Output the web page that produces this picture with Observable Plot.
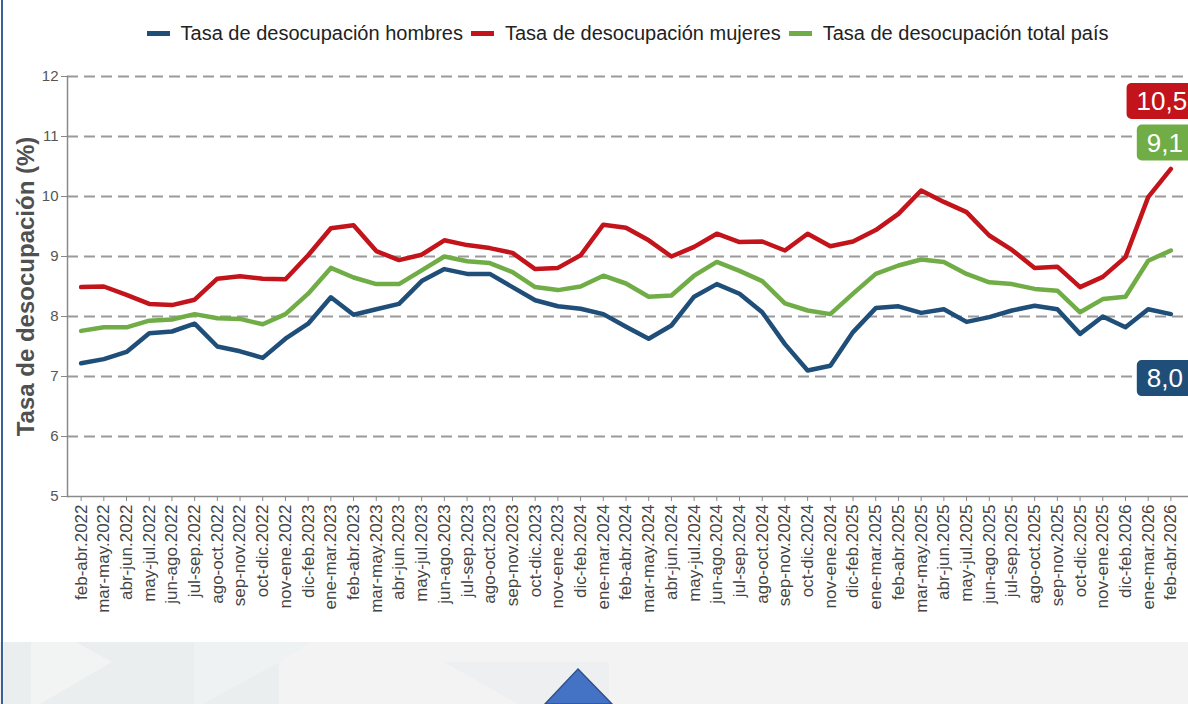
<!DOCTYPE html>
<html>
<head>
<meta charset="utf-8">
<script src="https://cdn.jsdelivr.net/npm/d3@7"></script>
<script src="https://cdn.jsdelivr.net/npm/@observablehq/plot@0.6"></script>
<style>
  html, body { margin: 0; padding: 0; background: #ffffff; }
  #page { position: relative; width: 1188px; height: 704px; overflow: hidden; background: #ffffff; font-family: "Liberation Sans", Arial, sans-serif; }
  #legend { position: absolute; left: 67px; width: 1121px; top: 22px; display: flex; justify-content: center; align-items: center; font-size: 20px; color: #222; white-space: nowrap; }
  .item { display: flex; align-items: center; margin: 0 4px; }
  .sw { width: 23px; height: 5px; margin-right: 11px; }
  #chart { position: absolute; left: 0; top: 55px; }
  #bottom { position: absolute; left: 0; top: 642px; width: 1188px; height: 62px; background: #f3f3f3; }
  #edge { position: absolute; left: 1px; top: 0; width: 2px; height: 704px; background: #3d5f99; }
</style>
</head>
<body>
<div id="page">
  <div id="legend"></div>
  <div id="chart"></div>
  <div id="bottom">
    <svg width="1188" height="62">
      <rect x="4" y="0" width="275" height="62" fill="#ebeeee"/>
      <polygon points="31,0 76,0 112,20 40,62 31,62" fill="#f2f4f4"/>
      <polygon points="194,0 312,0 279,20 203,62 194,62" fill="#eff2f2"/>
      <polygon points="444,20 609,20 609,62 518,62" fill="#edeff1"/>
      <polygon points="578,27 612,62 545,62" fill="#4472c4" stroke="#2f528f" stroke-width="1.5"/>
    </svg>
  </div>
  <div id="edge"></div>
</div>
<script>
const periods = [
  "feb-abr.2022","mar-may.2022","abr-jun.2022","may-jul.2022","jun-ago.2022","jul-sep.2022",
  "ago-oct.2022","sep-nov.2022","oct-dic.2022","nov-ene.2022","dic-feb.2023","ene-mar.2023",
  "feb-abr.2023","mar-may.2023","abr-jun.2023","may-jul.2023","jun-ago.2023","jul-sep.2023",
  "ago-oct.2023","sep-nov.2023","oct-dic.2023","nov-ene.2023","dic-feb.2024","ene-mar.2024",
  "feb-abr.2024","mar-may.2024","abr-jun.2024","may-jul.2024","jun-ago.2024","jul-sep.2024",
  "ago-oct.2024","sep-nov.2024","oct-dic.2024","nov-ene.2024","dic-feb.2025","ene-mar.2025",
  "feb-abr.2025","mar-may.2025","abr-jun.2025","may-jul.2025","jun-ago.2025","jul-sep.2025",
  "ago-oct.2025","sep-nov.2025","oct-dic.2025","nov-ene.2025","dic-feb.2026","ene-mar.2026",
  "feb-abr.2026"
];

const hombres = [
  7.22,7.29,7.41,7.72,7.75,7.88,7.50,7.42,7.31,7.63,7.88,8.32,
  8.03,8.12,8.21,8.59,8.79,8.71,8.71,8.49,8.27,8.17,8.13,8.04,
  7.83,7.63,7.85,8.33,8.54,8.38,8.07,7.54,7.10,7.18,7.74,8.14,
  8.17,8.06,8.12,7.91,7.99,8.10,8.18,8.12,7.71,8.00,7.82,8.12,
  8.04
];

const mujeres = [
  8.49,8.50,8.36,8.21,8.19,8.28,8.63,8.67,8.63,8.62,9.02,9.47,
  9.52,9.09,8.94,9.03,9.27,9.19,9.14,9.06,8.79,8.81,9.02,9.53,
  9.48,9.27,9.00,9.16,9.38,9.24,9.25,9.10,9.38,9.17,9.25,9.44,
  9.71,10.10,9.91,9.74,9.35,9.11,8.81,8.83,8.49,8.66,8.99,9.99,
  10.46
];

const total = [
  7.76,7.82,7.82,7.93,7.95,8.04,7.97,7.96,7.87,8.04,8.38,8.81,
  8.65,8.54,8.54,8.77,9.00,8.92,8.89,8.74,8.49,8.44,8.50,8.68,
  8.55,8.33,8.35,8.68,8.91,8.76,8.59,8.22,8.10,8.04,8.38,8.71,
  8.85,8.95,8.91,8.71,8.57,8.54,8.46,8.43,8.07,8.29,8.33,8.93,
  9.10
];

const seriesNames = [
  "Tasa de desocupación hombres",
  "Tasa de desocupación mujeres",
  "Tasa de desocupación total país"
];
const seriesValues = [hombres, mujeres, total];
const seriesColors = ["#1f4e79", "#c3131b", "#70ad47"];
const labelOffsets = [64, -68, -108];
const labelShift = [-6, -9, -6];
const yTicks = [5, 6, 7, 8, 9, 10, 11, 12];
const yTitle = "Tasa de desocupación (%)";

// legend
const legend = document.getElementById("legend");
seriesNames.forEach((n, i) => {
  const it = document.createElement("div");
  it.className = "item";
  const sw = document.createElement("div");
  sw.className = "sw";
  sw.style.background = seriesColors[i];
  const tx = document.createElement("span");
  tx.textContent = n;
  it.append(sw, tx);
  legend.append(it);
});

const data = [];
seriesNames.forEach((n, s) => {
  seriesValues[s].forEach((v, i) => data.push({serie: n, periodo: periods[i], valor: v}));
});

const fmt = v => v.toFixed(1).replace(".", ",");
const labelFont = "26px 'Liberation Sans', Arial, sans-serif";
const ctx = document.createElement("canvas").getContext("2d");
ctx.font = labelFont;

function boxSymbol(w, h, rr) {
  return {
    draw(c) {
      const x0 = -w / 2, y0 = -h / 2, x1 = w / 2, y1 = h / 2;
      c.moveTo(x0 + rr, y0);
      c.lineTo(x1 - rr, y0);
      c.arcTo(x1, y0, x1, y0 + rr, rr);
      c.lineTo(x1, y1 - rr);
      c.arcTo(x1, y1, x1 - rr, y1, rr);
      c.lineTo(x0 + rr, y1);
      c.arcTo(x0, y1, x0, y1 - rr, rr);
      c.lineTo(x0, y0 + rr);
      c.arcTo(x0, y0, x0 + rr, y0, rr);
      c.closePath();
    }
  };
}

const endMarks = seriesNames.flatMap((n, s) => {
  const last = seriesValues[s].length - 1;
  const d = [{periodo: periods[last], valor: seriesValues[s][last], serie: n}];
  const w = ctx.measureText(fmt(d[0].valor)).width + 20;
  return [
    Plot.dot(d, {x: "periodo", y: "valor", dy: labelOffsets[s], dx: labelShift[s], r: 10,
      symbol: boxSymbol(w, 36, 5), fill: seriesColors[s], stroke: "none"}),
    Plot.text(d, {x: "periodo", y: "valor", text: dd => fmt(dd.valor),
      dy: labelOffsets[s] + 1, dx: labelShift[s], fill: "white", fontSize: 26, textAnchor: "middle"})
  ];
});

const chart = Plot.plot({
  width: 1188,
  height: 587,
  marginTop: 21,
  marginLeft: 67,
  marginRight: 4,
  marginBottom: 146,
  style: {fontFamily: "Liberation Sans, Arial, sans-serif", background: "transparent", overflow: "visible"},
  x: {type: "point", domain: periods, padding: 0.6, label: null},
  y: {domain: [5, 12], label: null},
  color: {domain: seriesNames, range: seriesColors},
  marks: [
    Plot.ruleY(yTicks.filter(t => t > 5), {stroke: "#9a9a9a", strokeWidth: 2, strokeDasharray: "11,6", insetRight: -4}),
    Plot.frame({anchor: "left", stroke: "#8a8a8a", strokeWidth: 1.5}),
    Plot.ruleY([5], {stroke: "#8a8a8a", strokeWidth: 1.5, insetRight: -4}),
    Plot.axisY({ticks: yTicks, tickFormat: d => String(d), tickSize: 6, tickPadding: 3, fontSize: 15, fill: "#555", stroke: "#888", label: null}),
    Plot.axisX({tickRotate: -90, tickSize: 5, tickPadding: 3, fontSize: 17, fill: "#444", stroke: "#888", label: null}),
    Plot.text([yTitle], {frameAnchor: "left", rotate: -90, dx: -41, textAnchor: "middle", fontSize: 24, fontWeight: "bold", fill: "#505050"}),
    Plot.line(data, {x: "periodo", y: "valor", z: "serie", stroke: "serie", strokeWidth: 4.5, strokeLinejoin: "round"}),
    ...endMarks
  ]
});

document.getElementById("chart").append(chart);
</script>
</body>
</html>
